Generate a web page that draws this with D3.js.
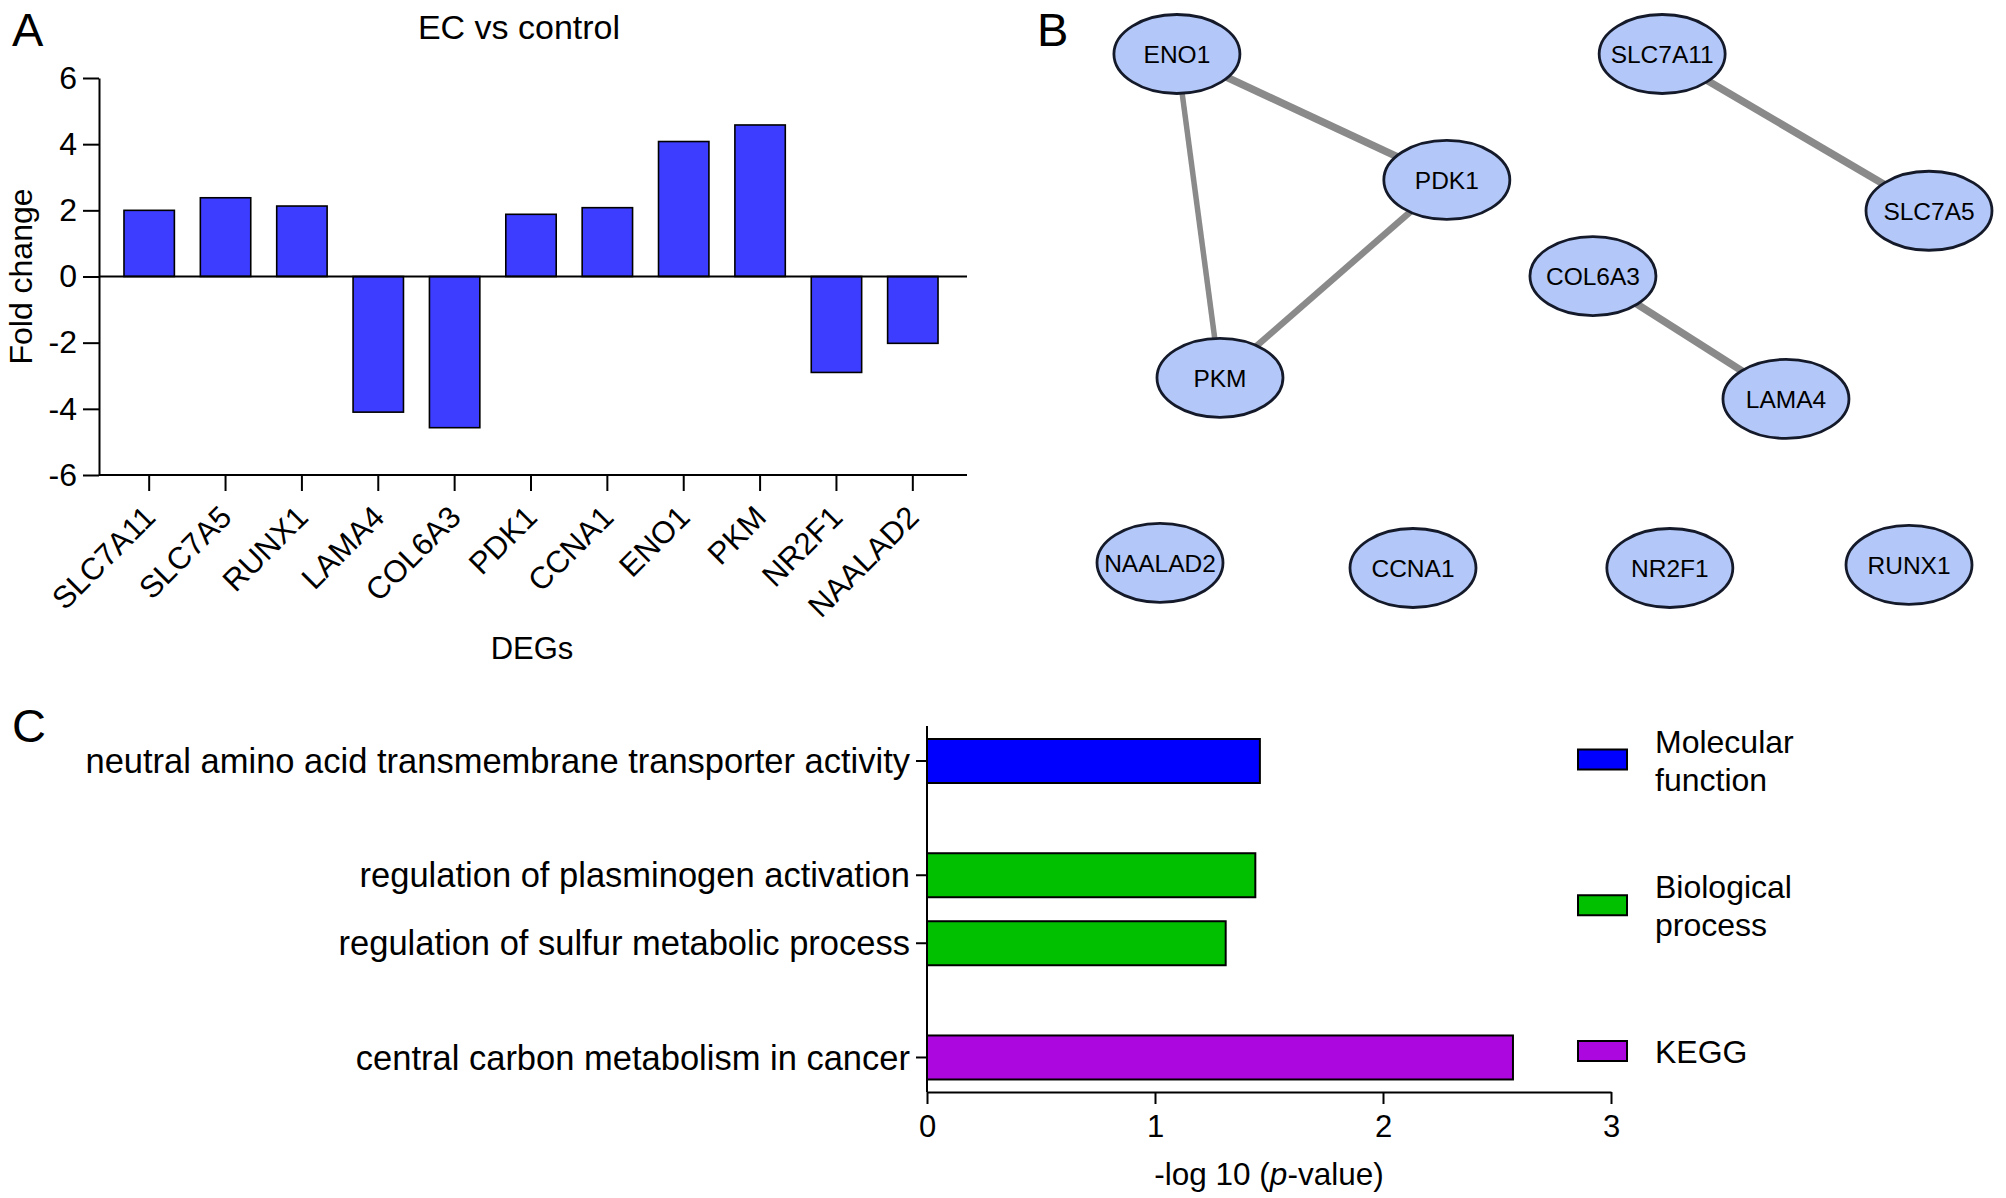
<!DOCTYPE html>
<html>
<head>
<meta charset="utf-8">
<script src="https://cdn.jsdelivr.net/npm/d3@7"></script>
<style>
  body { margin: 0; background: #fff; }
  text { font-family: "Liberation Sans", Arial, Helvetica, sans-serif; fill: #000; }
</style>
</head>
<body>
<svg id="fig" width="2006" height="1198"></svg>
<script>
// ---- panel A data: fold change of DEGs, EC vs control
const genes = ["SLC7A11", "SLC7A5", "RUNX1", "LAMA4", "COL6A3", "PDK1", "CCNA1", "ENO1", "PKM", "NR2F1", "NAALAD2"];
const foldChange = [2.0, 2.38, 2.13, -4.1, -4.57, 1.88, 2.08, 4.08, 4.58, -2.9, -2.02];
const foldTicks = [-6, -4, -2, 0, 2, 4, 6];

// ---- panel B data: interaction network (layout units 0..10)
const nodeNames = ["ENO1", "SLC7A11", "PDK1", "SLC7A5", "COL6A3", "PKM", "LAMA4", "NAALAD2", "CCNA1", "NR2F1", "RUNX1"];
const nodeX = [0.22, 6.53, 3.73, 10.0, 5.63, 0.78, 8.14, 0.0, 3.29, 6.63, 9.74];
const nodeY = [0.0, 0.0, 2.45, 3.05, 4.32, 6.3, 6.71, 9.9, 10.0, 10.0, 9.94];
const edgeFrom = ["ENO1", "ENO1", "PDK1", "SLC7A11", "COL6A3"];
const edgeTo = ["PDK1", "PKM", "PKM", "SLC7A5", "LAMA4"];
const edgeScore = [0.95, 0.75, 0.85, 0.95, 0.95];

// ---- panel C data: enrichment terms
const terms = [
  "neutral amino acid transmembrane transporter activity",
  "regulation of plasminogen activation",
  "regulation of sulfur metabolic process",
  "central carbon metabolism in cancer"
];
const termGroup = [0, 1, 1, 2];
const negLogP = [1.46, 1.44, 1.31, 2.57];
const groups = ["Molecular function", "Biological process", "KEGG"];
const groupColors = ["#0000ff", "#00c000", "#ad07e0"];
const pTicks = [0, 1, 2, 3];

const svg = d3.select("#fig");

// panel letters
svg.selectAll("text.panel")
  .data([["A", 12, 46], ["B", 1037, 46], ["C", 12, 742]])
  .join("text")
  .attr("class", "panel")
  .attr("x", d => d[1]).attr("y", d => d[2])
  .attr("font-size", 47)
  .text(d => d[0]);

// ================= A =================
(function() {
  const left = 99, right = 967, top = 78, bottom = 475;
  const g = svg.append("g");

  const x = d3.scaleBand().domain(genes).range([111, 951]).paddingInner(0.34).paddingOuter(0.17);
  const y = d3.scaleLinear().domain([-6, 6]).range([bottom, top]);

  g.selectAll("rect.bar")
    .data(genes)
    .join("rect")
    .attr("class", "bar")
    .attr("x", d => x(d))
    .attr("width", x.bandwidth())
    .attr("y", (d, i) => y(Math.max(0, foldChange[i])))
    .attr("height", (d, i) => Math.abs(y(foldChange[i]) - y(0)))
    .attr("fill", "#3d3dff")
    .attr("stroke", "#000")
    .attr("stroke-width", 1.6);

  // zero line
  g.append("line")
    .attr("x1", left).attr("x2", right)
    .attr("y1", y(0)).attr("y2", y(0))
    .attr("stroke", "#000").attr("stroke-width", 1.8);

  // y axis (plain hyphen minus like the original)
  const yAxis = g.append("g")
    .attr("transform", `translate(${left},0)`)
    .call(d3.axisLeft(y).tickValues(foldTicks).tickFormat(d => String(d))
      .tickSize(16).tickPadding(6).tickSizeOuter(0));
  yAxis.select(".domain").attr("stroke-width", 2);
  yAxis.selectAll(".tick line").attr("stroke-width", 2);
  yAxis.selectAll(".tick text").attr("font-size", 32).attr("font-family", null);

  // x axis
  const xAxis = g.append("g")
    .attr("transform", `translate(0,${bottom})`)
    .call(d3.axisBottom(x).tickSize(16).tickSizeOuter(0));
  xAxis.select(".domain").remove();
  xAxis.selectAll(".tick line").attr("stroke-width", 2);
  xAxis.selectAll(".tick text")
    .attr("font-size", 31).attr("font-family", null)
    .attr("x", 0).attr("y", 0).attr("dy", 0)
    .attr("text-anchor", "end")
    .attr("transform", "translate(8,44) rotate(-45)");
  g.append("line")
    .attr("x1", left).attr("x2", right)
    .attr("y1", bottom).attr("y2", bottom)
    .attr("stroke", "#000").attr("stroke-width", 2);

  // titles
  g.append("text").attr("x", 519).attr("y", 39).attr("text-anchor", "middle")
    .attr("font-size", 34).text("EC vs control");
  g.append("text").attr("x", 532).attr("y", 659).attr("text-anchor", "middle")
    .attr("font-size", 31).text("DEGs");
  g.append("text")
    .attr("transform", `translate(32,${(top + bottom) / 2}) rotate(-90)`)
    .attr("text-anchor", "middle")
    .attr("font-size", 32).text("Fold change");
})();

// ================= B =================
(function() {
  const g = svg.append("g");
  const x = d3.scaleLinear().domain([0, 10]).range([1160, 1929]);
  const y = d3.scaleLinear().domain([0, 10]).range([54, 568]);
  const w = d3.scaleLinear().domain([0.75, 0.95]).range([5.5, 7.5]);
  const idx = name => nodeNames.indexOf(name);

  g.selectAll("line.edge")
    .data(edgeFrom)
    .join("line")
    .attr("class", "edge")
    .attr("x1", d => x(nodeX[idx(d)]))
    .attr("y1", d => y(nodeY[idx(d)]))
    .attr("x2", (d, i) => x(nodeX[idx(edgeTo[i])]))
    .attr("y2", (d, i) => y(nodeY[idx(edgeTo[i])]))
    .attr("stroke", "#8a8a8a")
    .attr("stroke-width", (d, i) => w(edgeScore[i]));

  const node = g.selectAll("g.node")
    .data(nodeNames)
    .join("g")
    .attr("class", "node")
    .attr("transform", (d, i) => `translate(${x(nodeX[i])},${y(nodeY[i])})`);

  node.append("ellipse")
    .attr("rx", 63).attr("ry", 39.5)
    .attr("fill", "#b3c8f8")
    .attr("stroke", "#151a2a")
    .attr("stroke-width", 2.8);

  node.append("text")
    .attr("text-anchor", "middle")
    .attr("dy", "0.36em")
    .attr("font-size", 24.5)
    .text(d => d);
})();

// ================= C =================
(function() {
  const g = svg.append("g");
  const left = 927, right = 1611, axisY = 1092, top = 726;
  const barH = 44, gap = 0.68;

  const x = d3.scaleLinear().domain([0, 3]).range([left, right]);
  // row slot: index plus an extra gap between groups
  const slot = termGroup.map((grp, i) => i + grp * gap);
  const y = d3.scaleLinear().domain([0, 1]).range([761, 829]);

  g.selectAll("rect.term")
    .data(terms)
    .join("rect")
    .attr("class", "term")
    .attr("x", x(0))
    .attr("y", (d, i) => y(slot[i]) - barH / 2)
    .attr("width", (d, i) => x(negLogP[i]) - x(0))
    .attr("height", barH)
    .attr("fill", (d, i) => groupColors[termGroup[i]])
    .attr("stroke", "#000")
    .attr("stroke-width", 2);

  // y axis with term labels
  g.append("line")
    .attr("x1", left).attr("x2", left).attr("y1", top).attr("y2", axisY)
    .attr("stroke", "#000").attr("stroke-width", 2);
  g.selectAll("line.ytick")
    .data(terms)
    .join("line")
    .attr("class", "ytick")
    .attr("x1", left - 11).attr("x2", left)
    .attr("y1", (d, i) => y(slot[i])).attr("y2", (d, i) => y(slot[i]))
    .attr("stroke", "#000").attr("stroke-width", 2);
  g.selectAll("text.term")
    .data(terms)
    .join("text")
    .attr("class", "term")
    .attr("x", left - 17)
    .attr("y", (d, i) => y(slot[i]))
    .attr("dy", "0.35em")
    .attr("text-anchor", "end")
    .attr("font-size", 34.5)
    .text(d => d);

  // x axis
  const xAxis = g.append("g")
    .attr("transform", `translate(0,${axisY})`)
    .call(d3.axisBottom(x).tickValues(pTicks).tickFormat(d => String(d))
      .tickSize(12).tickPadding(11).tickSizeOuter(0));
  xAxis.select(".domain").attr("stroke-width", 2);
  xAxis.selectAll(".tick line").attr("stroke-width", 2);
  xAxis.selectAll(".tick text").attr("font-size", 31).attr("font-family", null);

  const lab = g.append("text").attr("x", (left + right) / 2).attr("y", 1185)
    .attr("text-anchor", "middle").attr("font-size", 31.5);
  lab.append("tspan").text("-log 10 (");
  lab.append("tspan").attr("font-style", "italic").text("p");
  lab.append("tspan").text("-value)");

  // legend
  const ly = d3.scalePoint().domain(groups).range([759.5, 1051]);
  const item = g.selectAll("g.legend")
    .data(groups)
    .join("g")
    .attr("class", "legend")
    .attr("transform", d => `translate(1578,${ly(d)})`);
  item.append("rect")
    .attr("x", 0).attr("y", -10).attr("width", 49).attr("height", 20)
    .attr("fill", (d, i) => groupColors[i])
    .attr("stroke", "#000").attr("stroke-width", 2);
  item.each(function(d) {
    const words = d.split(" ");
    const t = d3.select(this).append("text").attr("x", 77).attr("font-size", 32);
    if (words.length === 1) {
      t.attr("y", 0).attr("dy", "0.36em").text(d);
    } else {
      words.forEach((wd, k) => t.append("tspan").attr("x", 77).attr("y", -7 + k * 38).text(wd));
    }
  });
})();
</script>
</body>
</html>
